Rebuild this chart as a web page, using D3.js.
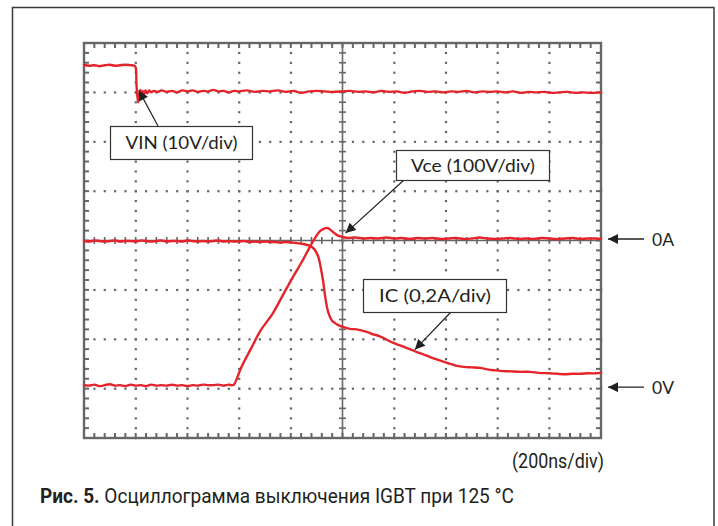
<!DOCTYPE html>
<html>
<head>
<meta charset="utf-8">
<script src="https://cdn.jsdelivr.net/npm/d3@7"></script>
<style>
  html, body { margin: 0; padding: 0; background: #fff; }
  svg { display: block; }
</style>
</head>
<body>
<svg id="chart" width="718" height="526"></svg>
<script>
// Time axis: 200 ns per division, 10 divisions. Vertical axis in divisions (-4..4).
const timeDomain = [0, 2000];
const divDomain = [-4, 4];

// Gate input voltage VIN, [ns, div]
const vinTrace = [
  [0,3.56],[20,3.54],[40,3.55],[60,3.53],[80,3.55],[100,3.56],[120,3.54],[140,3.55],[160,3.56],[180,3.55],
  [195,3.54],[200,3.50],[203,3.15],[207,2.90],[210,2.80],[214,2.95],[218,3.05],[222,2.91],[227,3.03],[232,2.96],
  [238,3.04],[245,2.98],[252,3.04],[260,3.00],[270,3.03],[285,3.01],[300,3.04],[320,3.01],[340,3.03],[360,3.00],
  [380,3.04],[400,3.02],[420,3.04],[440,3.01],[460,3.03],[480,3.02],[500,3.05],[520,3.02],[540,3.03],[560,3.00],
  [580,3.03],[600,3.02],[630,3.04],[660,3.01],[690,3.03],[720,3.02],[750,3.04],[780,3.01],[810,3.03],[840,2.99],
  [870,3.02],[900,3.03],[930,3.02],[960,3.01],[1000,3.02],[1030,3.03],[1060,3.01],[1090,3.02],[1120,3.00],[1150,3.03],
  [1180,3.01],[1210,3.02],[1240,2.99],[1270,3.02],[1300,3.03],[1330,3.01],[1360,3.02],[1390,3.00],[1420,3.02],[1450,3.01],
  [1480,3.03],[1510,3.00],[1540,3.02],[1570,3.01],[1600,3.02],[1630,3.00],[1660,3.02],[1690,2.99],[1720,3.01],[1750,3.00],
  [1780,3.01],[1810,2.99],[1840,3.00],[1870,3.01],[1900,2.99],[1930,3.00],[1960,2.99],[2000,3.00]
];

// Collector-emitter voltage Vce, [ns, div]
const vceTrace = [
  [0,-2.93],[20,-2.94],[40,-2.92],[60,-2.95],[80,-2.93],[100,-2.91],[120,-2.94],[140,-2.93],[160,-2.95],[180,-2.92],
  [200,-2.94],[220,-2.93],[240,-2.95],[260,-2.92],[280,-2.94],[300,-2.93],[320,-2.94],[340,-2.92],[360,-2.94],[380,-2.93],
  [400,-2.95],[420,-2.93],[440,-2.94],[460,-2.92],[480,-2.93],[500,-2.93],[520,-2.92],[540,-2.94],[560,-2.92],[575,-2.93],
  [580,-2.92],[610,-2.55],[649,-2.16],[681,-1.84],[731,-1.47],[770,-1.10],[808,-0.74],[843,-0.43],[874,-0.13],[901,0.11],
  [915,0.20],[925,0.23],[935,0.25],[944,0.25],[959,0.19],[979,0.11],[1002,0.07],[1020,0.05],[1050,0.06],[1080,0.04],
  [1110,0.05],[1140,0.04],[1170,0.06],[1200,0.04],[1230,0.05],[1260,0.03],[1290,0.05],[1320,0.04],[1350,0.05],[1380,0.03],
  [1410,0.04],[1440,0.05],[1470,0.03],[1500,0.04],[1530,0.06],[1560,0.04],[1590,0.03],[1620,0.04],[1650,0.05],[1680,0.03],
  [1710,0.04],[1740,0.03],[1770,0.05],[1800,0.04],[1830,0.03],[1860,0.04],[1890,0.05],[1920,0.03],[1950,0.04],[1980,0.04],[2000,0.03]
];

// Collector current IC, [ns, div]
const icTrace = [
  [0,-0.01],[20,-0.02],[40,0.00],[60,-0.01],[80,-0.02],[100,-0.01],[120,0.00],[140,-0.02],[160,-0.01],[180,-0.01],
  [200,-0.02],[220,0.00],[240,-0.01],[260,-0.02],[280,-0.01],[300,0.00],[320,-0.02],[340,-0.01],[360,-0.01],[380,-0.02],
  [400,0.00],[420,-0.01],[440,-0.02],[460,-0.01],[480,-0.02],[500,-0.01],[520,0.00],[540,-0.02],[560,-0.01],[580,-0.02],
  [600,-0.02],[620,-0.01],[640,-0.03],[660,-0.02],[680,-0.03],[700,-0.02],[720,-0.03],[740,-0.03],[760,-0.04],[780,-0.03],
  [800,-0.04],[820,-0.05],[847,-0.07],[874,-0.11],[890,-0.17],[905,-0.31],[917,-0.58],[925,-0.82],[932,-1.10],[940,-1.35],
  [948,-1.50],[959,-1.62],[979,-1.70],[1002,-1.75],[1029,-1.79],[1055,-1.80],[1079,-1.83],[1100,-1.86],[1118,-1.90],[1140,-1.93],
  [1157,-1.97],[1175,-2.02],[1195,-2.07],[1220,-2.12],[1250,-2.18],[1270,-2.22],[1288,-2.26],[1310,-2.30],[1339,-2.36],[1370,-2.42],
  [1404,-2.48],[1425,-2.51],[1443,-2.54],[1470,-2.56],[1500,-2.57],[1532,-2.58],[1560,-2.61],[1590,-2.63],[1609,-2.64],[1650,-2.65],
  [1690,-2.66],[1725,-2.66],[1760,-2.68],[1800,-2.69],[1830,-2.70],[1860,-2.71],[1890,-2.70],[1919,-2.70],[1950,-2.69],[1980,-2.69],[2000,-2.68]
];

// Annotation texts
const labelTexts = ["VIN (10V/div)", "Vce (100V/div)", "IC (0,2A/div)"];
// Points the callout arrows indicate, [ns, div]
const arrowTargets = [[212, 3.04], [1012, 0.15], [1280, -2.21]];
const levelMarks = [["0A", 0], ["0V", -3]];
const timebaseText = "(200ns/div)";
const captionBold = "Рис. 5.";
const captionText = " Осциллограмма выключения IGBT при 125 °C";

const svg = d3.select("#chart");
const plot = { left: 84, right: 601, top: 43, bottom: 438 };

const x = d3.scaleLinear().domain(timeDomain).range([plot.left, plot.right]);
const y = d3.scaleLinear().domain(divDomain).range([plot.bottom, plot.top]);

const gridColor = "#666";
const traceColor = "#e5232b";
const inkColor = "#231f20";

// Outer figure frame
svg.append("rect")
  .attr("x", 12.5).attr("y", 7.5)
  .attr("width", 701.5).attr("height", 530)
  .attr("fill", "none").attr("stroke", "#3a3a3a").attr("stroke-width", 1.5);

const defs = svg.append("defs");
defs.append("marker")
  .attr("id", "arrowHead")
  .attr("viewBox", "0 0 10 10")
  .attr("refX", 10).attr("refY", 5)
  .attr("markerWidth", 13).attr("markerHeight", 10)
  .attr("markerUnits", "userSpaceOnUse")
  .attr("orient", "auto")
  .append("path").attr("d", "M0,0 L10,5 L0,10 Z").attr("fill", inkColor);

const g = svg.append("g");

// Dotted graticule at every major division (minor step = 1/5 division)
const minorX = d3.range(0, 2000 + 1e-6, 40);
const minorY = d3.range(-4, 4 + 1e-6, 0.2);
const majorX = d3.range(200, 2000, 200).filter(v => v !== 1000);
const majorY = d3.range(-3, 4, 1).filter(v => v !== 0);

const dots = g.append("g").attr("fill", gridColor);
majorX.forEach(t => {
  minorY.forEach(v => {
    dots.append("rect").attr("x", x(t) - 1).attr("y", y(v) - 1).attr("width", 2.2).attr("height", 2.2);
  });
});
majorY.forEach(v => {
  minorX.forEach(t => {
    dots.append("rect").attr("x", x(t) - 1).attr("y", y(v) - 1).attr("width", 2.2).attr("height", 2.2);
  });
});

// Centre axes with minor ticks
const axes = g.append("g").attr("stroke", gridColor);
axes.append("line").attr("x1", x(1000)).attr("x2", x(1000)).attr("y1", y(4)).attr("y2", y(-4)).attr("stroke-width", 1.6);
axes.append("line").attr("x1", x(0)).attr("x2", x(2000)).attr("y1", y(0)).attr("y2", y(0)).attr("stroke-width", 1.6);
minorY.forEach(v => {
  axes.append("line").attr("x1", x(1000) - 3.5).attr("x2", x(1000) + 3.5).attr("y1", y(v)).attr("y2", y(v)).attr("stroke-width", 1.6);
});
minorX.forEach(t => {
  axes.append("line").attr("x1", x(t)).attr("x2", x(t)).attr("y1", y(0) - 3.5).attr("y2", y(0) + 3.5).attr("stroke-width", 1.6);
});

// Frame with inward ticks
const frame = g.append("g").attr("stroke", gridColor).attr("stroke-width", 2);
minorX.forEach(t => {
  frame.append("line").attr("x1", x(t)).attr("x2", x(t)).attr("y1", y(4)).attr("y2", y(4) + 5);
  frame.append("line").attr("x1", x(t)).attr("x2", x(t)).attr("y1", y(-4)).attr("y2", y(-4) - 5);
});
minorY.forEach(v => {
  frame.append("line").attr("x1", x(0)).attr("x2", x(0) + 5).attr("y1", y(v)).attr("y2", y(v));
  frame.append("line").attr("x1", x(2000)).attr("x2", x(2000) - 5).attr("y1", y(v)).attr("y2", y(v));
});
frame.append("rect")
  .attr("x", x(0)).attr("y", y(4))
  .attr("width", x(2000) - x(0)).attr("height", y(-4) - y(4))
  .attr("fill", "none").attr("stroke-width", 2.4);

// Traces
const line = d3.line().x(d => x(d[0])).y(d => y(d[1])).curve(d3.curveCatmullRom.alpha(0.5));
[vinTrace, vceTrace, icTrace].forEach(tr => {
  g.append("path")
    .datum(tr)
    .attr("d", line)
    .attr("fill", "none")
    .attr("stroke", traceColor)
    .attr("stroke-width", 2.4)
    .attr("stroke-linejoin", "round")
    .attr("stroke-linecap", "round");
});

// Callout boxes with arrows
const boxes = [
  { x: 110, y: 126, w: 142, h: 33, ax: 158, ay: 126, tw: 112 },
  { x: 396, y: 150, w: 153, h: 30, ax: 404, ay: 180, tw: 124 },
  { x: 363, y: 279, w: 143, h: 33, ax: 451, ay: 312, tw: 112 }
];
const fontFamily = "Lato, 'Open Sans', sans-serif";
boxes.forEach((b, i) => {
  const [tx, tv] = arrowTargets[i];
  g.append("line")
    .attr("x1", b.ax).attr("y1", b.ay)
    .attr("x2", x(tx)).attr("y2", y(tv))
    .attr("stroke", inkColor).attr("stroke-width", 1.2)
    .attr("marker-end", "url(#arrowHead)");
  g.append("rect")
    .attr("x", b.x + 0.5).attr("y", b.y + 0.5)
    .attr("width", b.w).attr("height", b.h)
    .attr("fill", "#fff").attr("stroke", "#333").attr("stroke-width", 1.2);
  g.append("text")
    .attr("x", b.x + b.w / 2 + 0.5).attr("y", b.y + b.h / 2 + 6.5)
    .attr("text-anchor", "middle")
    .attr("font-family", fontFamily)
    .attr("font-size", 17.5)
    .attr("textLength", b.tw).attr("lengthAdjust", "spacingAndGlyphs")
    .attr("fill", inkColor)
    .text(labelTexts[i]);
});

// Reference level markers on the right
levelMarks.forEach(([txt, v]) => {
  const yy = y(v) - 1.5;
  g.append("line")
    .attr("x1", 644).attr("y1", yy).attr("x2", 608).attr("y2", yy)
    .attr("stroke", inkColor).attr("stroke-width", 1.4)
    .attr("marker-end", "url(#arrowHead)");
  g.append("text")
    .attr("x", 652).attr("y", yy + 6.5)
    .attr("font-family", fontFamily)
    .attr("font-size", 17.5)
    .attr("fill", inkColor)
    .text(txt);
});

// Timebase note and caption
svg.append("text")
  .attr("x", 604).attr("y", 468)
  .attr("text-anchor", "end")
  .attr("font-family", "Roboto, sans-serif")
  .attr("font-size", 19.5)
  .attr("textLength", 92).attr("lengthAdjust", "spacingAndGlyphs")
  .attr("fill", inkColor)
  .text(timebaseText);

const cap = svg.append("text")
  .attr("x", 40).attr("y", 503)
  .attr("font-family", "Roboto, sans-serif")
  .attr("font-size", 21)
  .attr("fill", inkColor)
  .attr("textLength", 474).attr("lengthAdjust", "spacingAndGlyphs");
cap.append("tspan").attr("font-weight", "bold").text(captionBold);
cap.append("tspan").text(captionText);
</script>
</body>
</html>
